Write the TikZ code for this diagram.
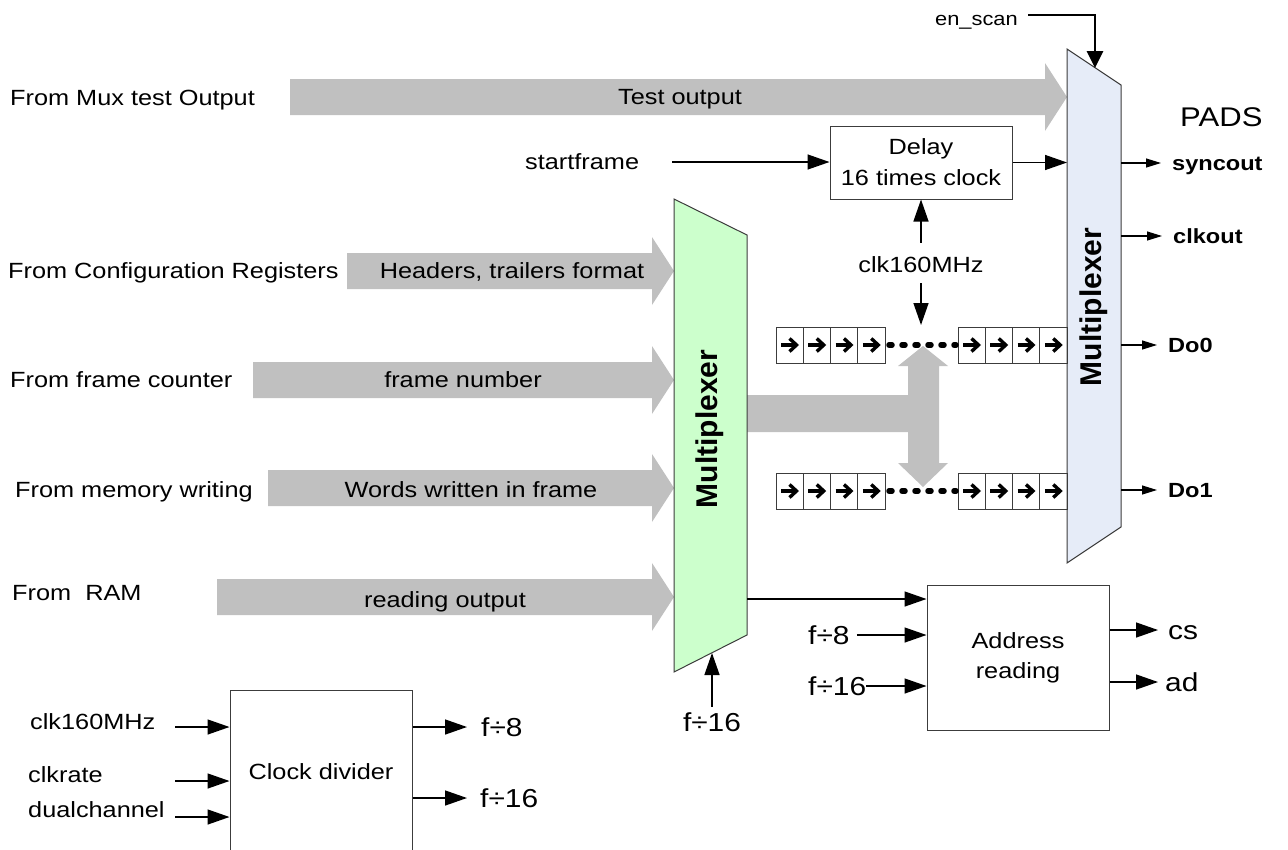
\documentclass[tikz,border=0pt]{standalone}
\usepackage{fontspec}
\setmainfont{Liberation Sans}[FakeStretch=1.15]
\newfontfamily\muxfont{Liberation Sans}
\usetikzlibrary{arrows.meta,calc}

\definecolor{busgray}{RGB}{192,192,192}
\definecolor{muxgreen}{RGB}{204,255,204}
\definecolor{muxblue}{RGB}{230,236,248}
\definecolor{edge}{RGB}{60,60,60}

% wide grey data-bus arrow: start x, tip x, centre y
\newcommand{\busarrow}[3]{%
  \fill[busgray] (#1,#3-18) -- (#2-22,#3-18) -- (#2-22,#3-34) -- (#2,#3)
    -- (#2-22,#3+34) -- (#2-22,#3+18) -- (#1,#3+18) -- cycle;}

\begin{document}
\begin{tikzpicture}[x=1pt,y=-1pt,
  txt/.style={inner sep=0pt, font=\fontsize{22}{26}\selectfont, text height=15.8pt, text depth=0pt},
  bigtxt/.style={inner sep=0pt, font=\fontsize{26}{30}\selectfont, text height=18.6pt, text depth=0pt},
  padtxt/.style={inner sep=0pt, font=\fontsize{20.5}{24}\selectfont\bfseries, text height=14.7pt, text depth=0pt},
  muxtxt/.style={inner sep=0pt, font=\muxfont\fontsize{30}{34}\selectfont\bfseries, rotate=90},
  block/.style={draw=edge, line width=1pt, fill=white, inner sep=0pt},
  sig/.style={line width=1.4pt, -{Triangle[length=22pt,width=15pt]}},
  sigs/.style={line width=1.2pt, -{Triangle[length=15pt,width=9pt]}},
  cell/.style={draw=edge, line width=1pt},
  cellarrow/.style={line width=3.4pt, line join=miter},
  chain/.style={line width=5.5pt, line cap=round, dash pattern=on 3pt off 10pt},
]
\useasboundingbox (0,0) rectangle (1288,849);

% ---------- data buses ----------
\busarrow{290}{1067}{97}
\busarrow{347}{674}{271}
\busarrow{253}{674}{380}
\busarrow{268}{674}{488}
\busarrow{217}{674}{597}

% bus from the first multiplexer to both shift registers
\fill[busgray] (747,395) -- (908,395) -- (908,366) -- (898,366) -- (923,346)
  -- (948,366) -- (939,366) -- (939,463) -- (948,463) -- (923,487)
  -- (898,463) -- (908,463) -- (908,432) -- (747,432) -- cycle;

% ---------- multiplexers ----------
\draw[draw=edge, line width=1pt, fill=muxgreen]
  (674,199) -- (747,235) -- (747,635) -- (674,672) -- cycle;
\node[muxtxt] (muxA) at (710,429) {Multiplexer};
\coordinate (muxAout) at (747,599);

\draw[draw=edge, line width=1pt, fill=muxblue]
  (1067,49) -- (1121,85) -- (1121,527) -- (1067,563) -- cycle;
\node[muxtxt] (muxB) at (1094,307) {Multiplexer};
\coordinate (muxBin) at (1067,0);
\coordinate (muxBout) at (1121,0);

% ---------- input labels ----------
\node[txt, anchor=west] (l1) at (10,98)  {From Mux test Output};
\node[txt, anchor=west] (l2) at (8,271)  {From Configuration Registers};
\node[txt, anchor=west] (l3) at (10,380) {From frame counter};
\node[txt, anchor=west] (l4) at (15,490) {From memory writing};
\node[txt, anchor=west] (l5) at (12,593) {From\ \ RAM};

\node[txt] (b1) at (680,97)  {Test output};
\node[txt] (b2) at (512,271) {Headers, trailers format};
\node[txt] (b3) at (463,380) {frame number};
\node[txt] (b4) at (471,490) {Words written in frame};
\node[txt] (b5) at (445,600) {reading output};

% ---------- scan enable ----------
\node[txt, anchor=east, font=\fontsize{19}{22}\selectfont, text height=13.6pt] (en) at (1018,19) {en\_scan};
\draw[line width=2.8pt, -{Triangle[length=17pt,width=16pt]}]
  ([xshift=10pt]en.east |- 0,15) -- (1095,15) -- (1095,68);

% ---------- delay / start frame ----------
\node[block, minimum width=182pt, minimum height=73pt] (delay) at (921,162.5) {};
\node[align=center, inner sep=0pt, font=\fontsize{22}{31}\selectfont] at (delay.center) {Delay\\16 times clock};
\node[txt, anchor=west] (sf) at (525,162) {startframe};
\coordinate (sfin) at (672,162);
\draw[sig] (sfin) -- (delay.west |- sfin);
\draw[sig] (delay.east) -- (delay.east -| muxBin);

\node[txt] (clk) at (921,265) {clk160MHz};
\draw[sig] ([yshift=14pt]clk.north) -- (delay.south);
\coordinate (clkdn) at (921,325);
\draw[sig] ([yshift=-10pt]clk.south) -- (clkdn);

% ---------- shift registers ----------
\foreach \gx in {776,958} {
  \foreach \gy in {327,473} {
    \foreach \i in {0,...,3} {
      \pgfmathsetmacro{\cx}{\gx+\i*27.25}
      \pgfmathsetmacro{\cy}{\gy+18}
      \draw[cell] (\cx,\gy) rectangle ++(27.25,36);
      \draw[cellarrow] (\cx+5,\cy) -- (\cx+19,\cy);
      \draw[cellarrow] (\cx+13.5,\cy-6.5) -- (\cx+20.5,\cy) -- (\cx+13.5,\cy+6.5);
    }
  }
}
\draw[chain] (889,345) -- (956,345);
\draw[chain] (889,491) -- (956,491);

% ---------- pad outputs ----------
\node[txt, anchor=west, font=\fontsize{27}{31}\selectfont, text height=19.3pt] (pads) at (1180,117) {PADS};
\node[padtxt, anchor=west] (syncout) at (1172,163) {syncout};
\node[padtxt, anchor=west] (clkout)  at (1173,236) {clkout};
\node[padtxt, anchor=west] (do0)     at (1168,345) {Do0};
\node[padtxt, anchor=west] (do1)     at (1168,490) {Do1};
\foreach \p in {syncout,clkout,do0,do1}
  \draw[sigs] (\p -| muxBout) -- ([xshift=-11pt]\p.west);

% ---------- address reading ----------
\node[block, minimum width=182pt, minimum height=145pt] (addr) at (1018,657.5) {};
\node[align=center, inner sep=0pt, font=\fontsize{22}{30}\selectfont] at (addr.center) {Address\\reading};
\draw[sig] (muxAout) -- (muxAout -| addr.west);
\node[bigtxt, anchor=west] (fa8)  at (808,635) {f÷8};
\node[bigtxt, anchor=west] (fa16) at (808,686) {f÷16};
\draw[sig] ([xshift=7pt]fa8.east) -- (fa8 -| addr.west);
\draw[sig] (fa16.east) -- (fa16 -| addr.west);
\node[bigtxt, anchor=west] (cs) at (1168,630) {cs};
\node[bigtxt, anchor=west] (ad) at (1165,682) {ad};
\draw[sig] (cs -| addr.east) -- ([xshift=-10pt]cs.west);
\draw[sig] (ad -| addr.east) -- ([xshift=-7pt]ad.west);

% ---------- multiplexer select ----------
\node[bigtxt] (fm16) at (712,722) {f÷16};
\coordinate (muxAsel) at (712,653);
\draw[sig] ([yshift=6pt]fm16.north) -- (muxAsel);

% ---------- clock divider ----------
\node[block, minimum width=182pt, minimum height=164pt] (clkdiv) at (321,772) {};
\node[txt] at (clkdiv.center) {Clock divider};
\node[txt, anchor=west] (ck)   at (30,722) {clk160MHz};
\node[txt, anchor=west] (rate) at (28,775) {clkrate};
\node[txt, anchor=west] (dual) at (28,810) {dualchannel};
\coordinate (ci1) at (175,727);
\coordinate (ci2) at (175,781);
\coordinate (ci3) at (175,817);
\foreach \c in {ci1,ci2,ci3}
  \draw[sig] (\c) -- (\c -| clkdiv.west);
\node[bigtxt, anchor=west] (fo8)  at (481,727) {f÷8};
\node[bigtxt, anchor=west] (fo16) at (480,798) {f÷16};
\draw[sig] (fo8 -| clkdiv.east) -- ([xshift=-14pt]fo8.west);
\draw[sig] (fo16 -| clkdiv.east) -- ([xshift=-13pt]fo16.west);
\end{tikzpicture}
\end{document}
